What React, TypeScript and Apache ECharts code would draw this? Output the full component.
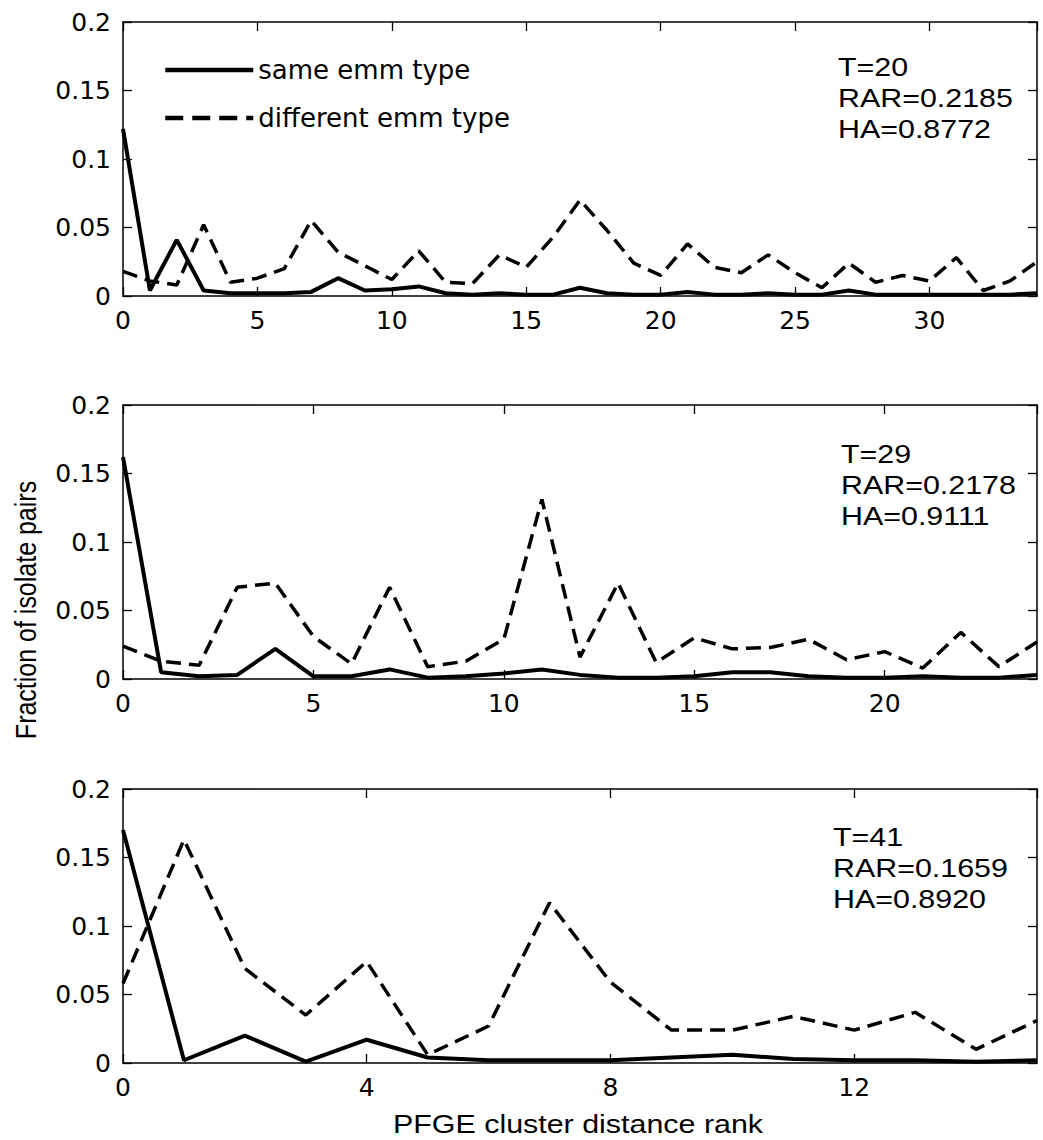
import React, { useEffect, useRef } from "react";
import * as echarts from "echarts";

// Panel 1 (T=20)
const ranks1 = Array.from({ length: 35 }, (_, i) => i);
const same1 = [0.122, 0.004, 0.041, 0.004, 0.002, 0.002, 0.002, 0.003, 0.013, 0.004, 0.005, 0.007, 0.002, 0.001, 0.002, 0.001, 0.001, 0.006, 0.002, 0.001, 0.001, 0.003, 0.001, 0.001, 0.002, 0.001, 0.001, 0.004, 0.001, 0.001, 0.001, 0.001, 0.001, 0.001, 0.002];
const diff1 = [0.018, 0.011, 0.008, 0.052, 0.010, 0.013, 0.020, 0.055, 0.032, 0.022, 0.012, 0.033, 0.010, 0.009, 0.030, 0.021, 0.043, 0.070, 0.048, 0.024, 0.015, 0.038, 0.021, 0.017, 0.030, 0.017, 0.006, 0.024, 0.010, 0.015, 0.011, 0.028, 0.004, 0.011, 0.025];

// Panel 2 (T=29)
const ranks2 = Array.from({ length: 25 }, (_, i) => i);
const same2 = [0.162, 0.005, 0.002, 0.003, 0.022, 0.002, 0.002, 0.007, 0.001, 0.002, 0.004, 0.007, 0.003, 0.001, 0.001, 0.002, 0.005, 0.005, 0.002, 0.001, 0.001, 0.002, 0.001, 0.001, 0.003];
const diff2 = [0.024, 0.013, 0.010, 0.067, 0.070, 0.031, 0.011, 0.067, 0.009, 0.013, 0.029, 0.131, 0.016, 0.070, 0.012, 0.030, 0.022, 0.023, 0.029, 0.014, 0.020, 0.008, 0.034, 0.009, 0.027];

// Panel 3 (T=41)
const ranks3 = Array.from({ length: 16 }, (_, i) => i);
const same3 = [0.170, 0.002, 0.020, 0.001, 0.017, 0.004, 0.002, 0.002, 0.002, 0.004, 0.006, 0.003, 0.002, 0.002, 0.001, 0.002];
const diff3 = [0.058, 0.163, 0.069, 0.035, 0.074, 0.006, 0.027, 0.117, 0.059, 0.024, 0.024, 0.034, 0.024, 0.037, 0.010, 0.031];

const xMax = [34, 24, 15];
const xInterval = [5, 5, 4];
const annotations = [
  ["T=20", "RAR=0.2185", "HA=0.8772"],
  ["T=29", "RAR=0.2178", "HA=0.9111"],
  ["T=41", "RAR=0.1659", "HA=0.8920"],
];
const seriesNames = ["same emm type", "different emm type"];
const yLabel = "Fraction of isolate pairs";
const xLabel = "PFGE cluster distance rank";

const gridTops = [22, 405, 789];
const gridH = 274;
const gridLeft = 123;
const gridW = 914;
const annPos = [
  { x: 838, y: 98 },
  { x: 841, y: 485 },
  { x: 833, y: 868 },
];

const TICK_FONT = "DejaVu Sans";

export default function App() {
  const ref = useRef<HTMLDivElement>(null);
  useEffect(() => {
    if (!ref.current) return;
    const chart = echarts.init(ref.current, undefined, { renderer: "svg" });
    const ranks = [ranks1, ranks2, ranks3];
    const sames = [same1, same2, same3];
    const diffs = [diff1, diff2, diff3];

    const grids = gridTops.map((t) => ({ left: gridLeft, top: t, width: gridW, height: gridH }));
    const xAxes: any[] = [];
    const yAxes: any[] = [];
    const series: any[] = [];
    const axisLine = { show: true, onZero: false, lineStyle: { color: "#000", width: 1.5 } };
    const axisTick = { show: true, inside: true, length: 9, lineStyle: { color: "#000", width: 1.3 } };
    for (let i = 0; i < 3; i++) {
      const base = {
        type: "value",
        gridIndex: i,
        min: 0,
        max: xMax[i],
        interval: xInterval[i],
        splitLine: { show: false },
        axisLine,
        axisTick,
      };
      xAxes.push({
        ...base,
        position: "bottom",
        axisLabel: {
          show: true,
          color: "#000",
          fontFamily: TICK_FONT,
          fontSize: 25,
          margin: 12,
          showMaxLabel: false,
        },
      });
      xAxes.push({ ...base, position: "top", axisLabel: { show: false } });
      const ybase = {
        type: "value",
        gridIndex: i,
        min: 0,
        max: 0.2,
        interval: 0.05,
        splitLine: { show: false },
        axisLine,
        axisTick,
      };
      yAxes.push({
        ...ybase,
        position: "left",
        axisLabel: { show: true, color: "#000", fontFamily: TICK_FONT, fontSize: 25, margin: 12 },
      });
      yAxes.push({ ...ybase, position: "right", axisLabel: { show: false } });

      series.push({
        name: seriesNames[0],
        type: "line",
        xAxisIndex: i * 2,
        yAxisIndex: i * 2,
        data: ranks[i].map((r, k) => [r, sames[i][k]]),
        symbol: "none",
        itemStyle: { color: "#000" },
        lineStyle: { color: "#000", width: 4, type: "solid" },
        z: 3,
      });
      series.push({
        name: seriesNames[1],
        type: "line",
        xAxisIndex: i * 2,
        yAxisIndex: i * 2,
        data: ranks[i].map((r, k) => [r, diffs[i][k]]),
        symbol: "none",
        itemStyle: { color: "#000" },
        lineStyle: { color: "#000", width: 3.5, type: [15, 8] },
        z: 2,
      });
    }

    const graphics: any[] = annotations.map((lines, i) => ({
      type: "text",
      x: annPos[i].x,
      y: annPos[i].y,
      scaleX: 1.17,
      style: {
        text: lines.join("\n"),
        font: '26px "Liberation Sans"',
        fill: "#000",
        textAlign: "left",
        textVerticalAlign: "middle",
        lineHeight: 31,
      },
      z: 10,
    }));
    graphics.push({
      type: "text",
      x: 26,
      y: 610,
      rotation: Math.PI / 2,
      scaleY: 1.17,
      style: {
        text: yLabel,
        font: '25px "Liberation Sans"',
        fill: "#000",
        textAlign: "center",
        textVerticalAlign: "middle",
      },
    });
    graphics.push({
      type: "text",
      x: 578,
      y: 1124,
      scaleX: 1.17,
      style: {
        text: xLabel,
        font: '26px "Liberation Sans"',
        fill: "#000",
        textAlign: "center",
        textVerticalAlign: "middle",
      },
    });

    chart.setOption({
      animation: false,
      backgroundColor: "#fff",
      grid: grids,
      xAxis: xAxes,
      yAxis: yAxes,
      series,
      legend: {
        orient: "vertical",
        left: 163,
        top: 57,
        padding: 0,
        itemWidth: 88,
        itemHeight: 14,
        itemGap: 22,
        selectedMode: false,
        textStyle: { color: "#000", fontFamily: "DejaVu Sans", fontSize: 26 },
        data: [
          {
            name: seriesNames[0],
            itemStyle: { opacity: 0 },
            lineStyle: { color: "#000", width: 4.5, type: "solid" },
          },
          {
            name: seriesNames[1],
            itemStyle: { opacity: 0 },
            lineStyle: { color: "#000", width: 4.5, type: [18, 9] },
          },
        ],
      },
      graphic: graphics,
    });
    return () => chart.dispose();
  }, []);
  return (
    <div
      ref={ref}
      style={{ position: "fixed", left: 0, top: 0, width: 1043, height: 1140, background: "#fff" }}
    />
  );
}
